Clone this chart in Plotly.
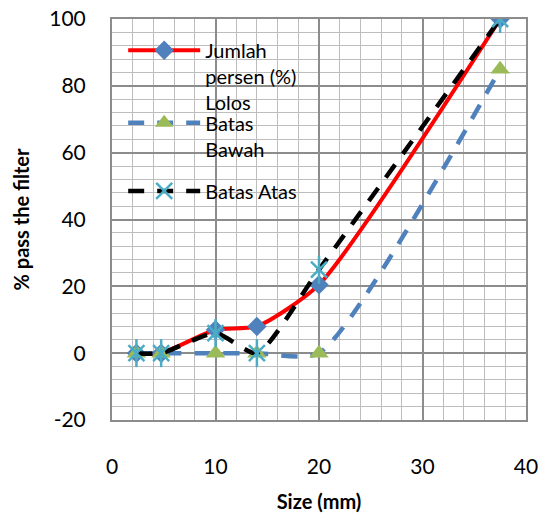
import plotly.graph_objects as go

sizes = [2.36, 4.75, 10, 14, 20, 37.5]
jumlah_lolos = [0, 0, 7, 8, 20.5, 100]
batas_bawah = [0, 0, 0, 0, 0, 85]
batas_atas = [0, 0, 6, 0, 25, 100]

x_ticks = [0, 10, 20, 30, 40]
y_ticks = [-20, 0, 20, 40, 60, 80, 100]

FONT = "Lato"
SMOOTH = 0.6

fig = go.Figure()

fig.add_trace(go.Scatter(
    x=sizes, y=jumlah_lolos, mode="lines+markers",
    name="Jumlah<br>persen (%)<br>Lolos",
    line=dict(color="#FF0000", width=4, shape="spline", smoothing=SMOOTH),
    marker=dict(symbol="diamond", size=15, color="#4F81BD"),
    legend="legend",
))
fig.add_trace(go.Scatter(
    x=sizes, y=batas_bawah, mode="lines+markers",
    name="Batas<br>Bawah",
    line=dict(color="#4F81BD", width=4.5, dash="16px,13px", shape="spline", smoothing=SMOOTH),
    marker=dict(symbol="triangle-up", size=17, color="#9BBB59"),
    legend="legend2",
))
fig.add_trace(go.Scatter(
    x=sizes, y=batas_atas, mode="lines+markers",
    name="Batas Atas",
    line=dict(color="#000000", width=4.5, dash="16px,13px", shape="spline", smoothing=SMOOTH),
    marker=dict(symbol="x-thin-open", size=16, color="#4BACC6", line=dict(color="#4BACC6", width=2.5)),
    legend="legend3",
))
fig.add_trace(go.Scatter(
    x=sizes, y=batas_atas, mode="markers", showlegend=False, hoverinfo="skip",
    marker=dict(symbol="line-ns-open", size=20, color="#4BACC6", line=dict(color="#4BACC6", width=2.5)),
))

legend_common = dict(
    bgcolor="rgba(0,0,0,0)", font=dict(family=FONT, size=20, color="#000000"),
    xanchor="left", yanchor="top", valign="top", itemwidth=72,
)

fig.update_layout(
    width=539, height=521,
    margin=dict(l=112, r=13, t=19, b=101),
    paper_bgcolor="white", plot_bgcolor="white",
    font=dict(family=FONT, color="#000000"),
    legend=dict(x=0.027, y=0.971, **legend_common),
    legend2=dict(x=0.027, y=0.790, **legend_common),
    legend3=dict(x=0.027, y=0.620, **legend_common),
    xaxis=dict(
        range=[0, 40], tickvals=x_ticks, ticktext=[str(v) for v in x_ticks],
        showgrid=True, gridcolor="#8C8C8C", gridwidth=1.8,
        minor=dict(dtick=2, showgrid=True, gridcolor="#BDBDBD", gridwidth=1.3),
        showline=True, linecolor="#8C8C8C", linewidth=2, mirror=True,
        zeroline=False, ticks="", ticklabelstandoff=27, automargin=False,
        ticklabeloverflow="allow",
        tickfont=dict(family=FONT, size=21, color="#000000"),
        title=dict(text="<b>Size (mm)</b>", font=dict(family=FONT, size=20, color="#000000"), standoff=18),
    ),
    yaxis=dict(
        range=[-20, 100], tickvals=y_ticks, ticktext=[str(v) for v in y_ticks],
        showgrid=True, gridcolor="#8C8C8C", gridwidth=1.8,
        minor=dict(dtick=4, showgrid=True, gridcolor="#BDBDBD", gridwidth=1.3),
        showline=True, linecolor="#8C8C8C", linewidth=2, mirror=True,
        zeroline=False, ticks="", ticklabelstandoff=20, automargin=False,
        ticklabeloverflow="allow",
        tickfont=dict(family=FONT, size=21, color="#000000"),
        title=dict(text="<b>% pass the filter</b>", font=dict(family=FONT, size=20, color="#000000"), standoff=14),
    ),
)

# remove the browser's default 8px page margin so the 539x521 figure fills the window
fig.write_html(
    "out.html",
    config={"displayModeBar": False},
    post_script="document.body.style.margin='0px';",
)
